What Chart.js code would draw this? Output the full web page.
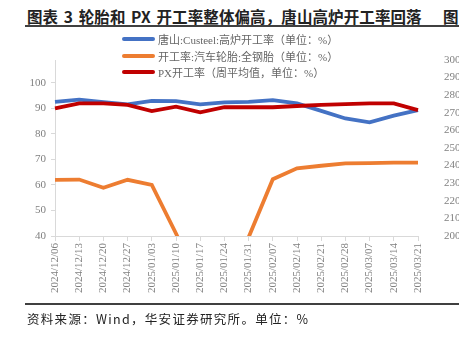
<!DOCTYPE html>
<html>
<head>
<meta charset="utf-8">
<script src="https://cdn.jsdelivr.net/npm/chart.js@4.4.1/dist/chart.umd.min.js"></script>
<style>
  body { margin: 0; background: #fff; width: 459px; height: 339px; overflow: hidden; position: relative; }
  #title { position: absolute; left: 27px; top: 5px; font-family: "Noto Sans CJK SC"; font-weight: bold; font-size: 15.5px; letter-spacing: 0.1px; word-spacing: 2px; color: #222; white-space: nowrap; }
  #title2 { position: absolute; left: 443px; top: 5px; font-family: "Noto Sans CJK SC"; font-weight: bold; font-size: 15.5px; color: #222; }
  #topline { position: absolute; left: 25px; right: 0; top: 25px; height: 2px; background: #404040; }
  #chartBox { position: absolute; left: 0; top: 0; width: 459px; height: 305px; }
  #legend { position: absolute; left: 122px; top: 31px; font-family: "Liberation Serif", "Noto Sans CJK SC"; font-size: 11px; color: #666; }
  .item { height: 16.5px; display: flex; align-items: center; white-space: nowrap; }
  .swatch { width: 33px; height: 4px; border-radius: 2px; margin-right: 3px; }
  #bottomline { position: absolute; left: 25px; right: 0; top: 303px; height: 2px; background: #404040; }
  #source { position: absolute; left: 27px; top: 309px; font-family: "Noto Sans CJK SC"; font-size: 12.5px; letter-spacing: 1.3px; color: #222; white-space: nowrap; }
</style>
</head>
<body>
<div id="title">图表 3 轮胎和 PX 开工率整体偏高，唐山高炉开工率回落</div>
<div id="title2">图</div>
<div id="topline"></div>
<div id="chartBox"><canvas id="lineChart"></canvas></div>
<div id="legend"></div>
<div id="bottomline"></div>
<div id="source">资料来源：Wind，华安证券研究所。单位：%</div>
<script>
// Chart data
var labels = ['2024/12/06', '2024/12/13', '2024/12/20', '2024/12/27', '2025/01/03', '2025/01/10',
    '2025/01/17', '2025/01/24', '2025/01/31', '2025/02/07', '2025/02/14', '2025/02/21',
    '2025/02/28', '2025/03/07', '2025/03/14', '2025/03/21'];
var tangshan = [92.5, 93.4, 92.4, 91.5, 92.9, 92.8, 91.5, 92.3, 92.5, 93.2, 91.9, 89.0, 86.0, 84.5, 87.1, 89.3];
var tyre = [62.0, 62.1, 58.9, 62.0, 60.0, 41.0, 20.0, 8.0, 39.5, 62.2, 66.5, 67.5, 68.4, 68.5, 68.7, 68.7];
var px = [90.0, 91.9, 91.9, 91.3, 88.9, 90.6, 88.4, 90.4, 90.4, 90.4, 90.9, 91.3, 91.6, 91.9, 91.9, 89.3];
var seriesNames = ['唐山:Custeel:高炉开工率（单位：%）', '开工率:汽车轮胎:全钢胎（单位：%）', 'PX开工率（周平均值，单位：%）'];
var seriesColors = ['#4472C4', '#ED7D31', '#C00000'];
var leftTicks = [40, 50, 60, 70, 80, 90, 100];

var tickFont = { family: 'Liberation Serif', size: 11 };
var tickColor = '#808080';

// HTML legend, one row per series
var legendBox = document.getElementById('legend');
seriesNames.forEach(function(name, i) {
    var row = document.createElement('div');
    row.className = 'item';
    row.innerHTML = '<span class="swatch" style="background:' + seriesColors[i] + '"></span><span>' + name + '</span>';
    legendBox.appendChild(row);
});

document.addEventListener('DOMContentLoaded', function() {
    var ctx = document.getElementById('lineChart').getContext('2d');
    var allData = [tangshan, tyre, px];
    var lineChart = new Chart(ctx, {
        type: 'line',
        data: {
            labels: labels,
            datasets: allData.map(function(d, i) {
                return {
                    label: seriesNames[i],
                    data: d,
                    borderColor: seriesColors[i],
                    backgroundColor: seriesColors[i],
                    borderWidth: 3.8,
                    pointRadius: 0,
                    tension: 0,
                    yAxisID: 'y'
                };
            }).reverse()
        },
        options: {
            responsive: true,
            maintainAspectRatio: false,
            animation: false,
            layout: { padding: { top: 60, left: 0, right: 0, bottom: 5 } },
            plugins: {
                legend: { display: false },
                tooltip: { enabled: false }
            },
            scales: {
                x: {
                    grid: { drawOnChartArea: false, color: '#d9d9d9', tickLength: 5 },
                    border: { color: '#d9d9d9', width: 1 },
                    ticks: { minRotation: 90, maxRotation: 90, autoSkip: false, font: tickFont, color: tickColor, padding: 2 },
                    afterFit: function(s) { s.height = 64; }
                },
                y: {
                    position: 'left',
                    min: 40,
                    max: 108.9,
                    grid: { drawOnChartArea: false, color: '#d9d9d9', tickLength: 4 },
                    border: { color: '#d9d9d9', width: 1 },
                    ticks: { stepSize: 10, font: tickFont, color: tickColor, padding: 5 },
                    afterBuildTicks: function(s) {
                        s.ticks = leftTicks.map(function(v) { return { value: v }; });
                    },
                    afterFit: function(s) { s.width = 55; }
                },
                y2: {
                    position: 'right',
                    min: 200,
                    max: 300,
                    grid: { display: false, drawTicks: false },
                    border: { display: false },
                    ticks: { stepSize: 10, font: tickFont, color: tickColor, padding: 26 },
                    afterFit: function(s) { s.width = 41; }
                }
            }
        }
    });
});
</script>
</body>
</html>
